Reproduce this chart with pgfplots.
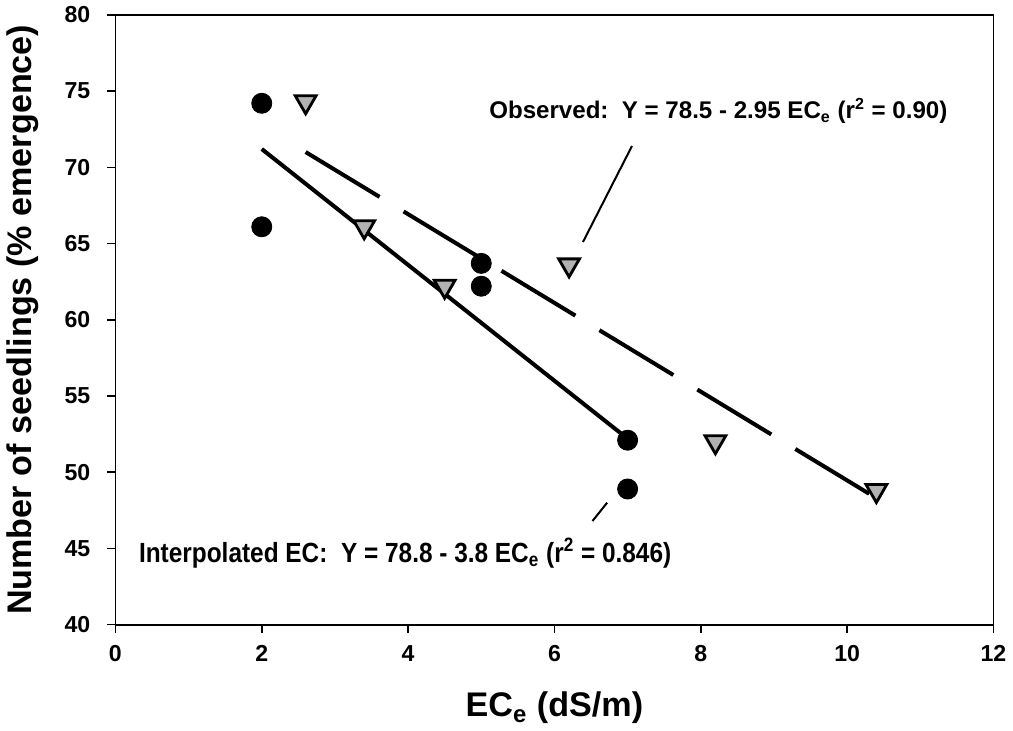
\documentclass[border=0pt]{standalone}
\usepackage{fontspec}
\setmainfont{Liberation Sans}
\newfontfamily\narrowfont[FakeStretch=0.88]{Liberation Sans}
\usepackage{pgfplots}
\pgfplotsset{compat=1.18}

\begin{document}
\begin{tikzpicture}
\begin{axis}[
    scale only axis,
    width=437pt, height=303.5pt,
    xmin=0, xmax=12, ymin=40, ymax=80,
    xtick={0,2,...,12}, ytick={40,45,...,80},
    tick align=outside,
    xtick pos=bottom, ytick pos=left,
    major tick length=4pt,
    tick style={black, line width=0.8pt},
    axis line style={line width=0.9pt},
    ticklabel style={font=\fontsize{11.5}{13}\selectfont\bfseries},
    yticklabel style={xshift=-5pt},
    xticklabel style={yshift=-3pt},
    /pgf/number format/assume math mode=true,
    xlabel={EC\textsubscript{e} (dS/m)},
    ylabel={Number of seedlings (\% emergence)},
    label style={font=\fontsize{17}{20}\selectfont\bfseries},
    xlabel style={yshift=-8pt},
    ylabel style={yshift=6pt},
    clip=false,
]
% fitted lines
\addplot[black, line width=2pt] coordinates {(2,71.2) (7,52.2)};
\addplot[black, line width=2pt, dash pattern=on 43pt off 14pt] coordinates {(2.6,71.0) (10.4,48.3)};
% interpolated EC (circles)
\addplot[only marks, mark=*, mark size=5pt, mark options={fill=black, draw=black}]
  coordinates {(2,74.2) (2,66.1) (5,63.7) (5,62.2) (7,52.1) (7,48.9)};
% observed (down triangles)
\addplot[only marks, mark=triangle*, mark size=6pt,
  mark options={rotate=180, fill=gray!60, draw=black, line width=1.4pt}]
  coordinates {(2.6,74.3) (3.4,66.1) (4.5,62.2) (6.2,63.6) (8.2,52.0) (10.4,48.8)};
% annotations
\draw[black, line width=1pt] (axis cs:7.06,71.4) -- (axis cs:6.39,65.1);
\draw[black, line width=1pt] (axis cs:6.52,46.8) -- (axis cs:6.72,48.0);
\node[font=\fontsize{12}{14}\selectfont\bfseries] at (axis cs:8.24,73.7)
  {Observed:\ \ Y = 78.5 - 2.95 EC\textsubscript{e} (r\textsuperscript{2} = 0.90)};
\node[font=\narrowfont\fontsize{13.8}{16}\selectfont\bfseries] at (axis cs:3.96,44.7)
  {Interpolated EC:\ \ Y = 78.8 - 3.8 EC\textsubscript{e} (r\textsuperscript{2} = 0.846)};
\end{axis}
\end{tikzpicture}
\end{document}
